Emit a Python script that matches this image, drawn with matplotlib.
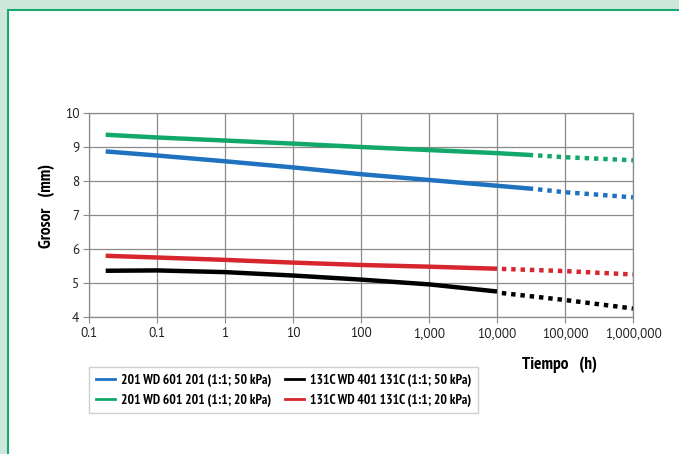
import matplotlib.pyplot as plt
from matplotlib.patches import Rectangle
from matplotlib.lines import Line2D

narrow = ['PT Sans Narrow', 'DejaVu Sans']
regular = ['PT Sans', 'DejaVu Sans']

# x positions in hours (log axis)
t_solid_long = [0.0176, 0.1, 1, 10, 100, 1000, 10000, 34000]
t_dot_long = [34000, 100000, 1000000]
t_solid_short = [0.0176, 0.1, 1, 10, 100, 1000, 10000]
t_dot_short = [10000, 100000, 1000000]

green_solid = [9.36, 9.28, 9.19, 9.10, 9.00, 8.91, 8.82, 8.76]
green_dot = [8.76, 8.70, 8.61]
blue_solid = [8.87, 8.75, 8.58, 8.40, 8.20, 8.03, 7.86, 7.77]
blue_dot = [7.77, 7.67, 7.52]
red_solid = [5.80, 5.75, 5.68, 5.60, 5.53, 5.48, 5.42]
red_dot = [5.42, 5.35, 5.25]
black_solid = [5.36, 5.37, 5.32, 5.22, 5.10, 4.96, 4.75]
black_dot = [4.72, 4.50, 4.25]

xticks = [0.01, 0.1, 1, 10, 100, 1000, 10000, 100000, 1000000]
xlabels = ['0.1', '0.1', '1', '10', '100', '1,000', '10,000', '100,000', '1,000,000']
yticks = [4, 5, 6, 7, 8, 9, 10]

legend_labels = ['201 WD 601 201 (1:1; 50 kPa)', '201 WD 601 201 (1:1; 20 kPa)',
                 '131C WD 401 131C (1:1; 50 kPa)', '131C WD 401 131C (1:1; 20 kPa)']

c_blue = '#1f72c0'
c_green = '#12a86a'
c_red = '#d8262e'
c_black = '#000000'

fig = plt.figure(figsize=(6.79, 4.54), dpi=100)
fig.patch.set_facecolor('#cde8da')
W, H = 679.0, 454.0

# white panel with green border, in a background axes
bg = fig.add_axes([0, 0, 1, 1], zorder=-5)
bg.set_axis_off()
bg.set_xlim(0, W)
bg.set_ylim(H, 0)
bg.add_patch(Rectangle((8, 10), W, H, facecolor='white', edgecolor='#19a874', linewidth=1.5))

ax = fig.add_axes([89 / W, 1 - 317 / H, 544 / W, 204 / H])
ax.set_facecolor('white')
ax.set_xscale('log')
ax.set_xlim(0.01, 1000000)
ax.set_ylim(4, 10)
ax.set_xticks(xticks)
ax.set_xticklabels(xlabels)
ax.minorticks_off()
ax.set_yticks(yticks)
ax.grid(True, color='#8a8a8a', linewidth=0.9)
for s in ax.spines.values():
    s.set_color('#8a8a8a')
    s.set_linewidth(0.9)
ax.tick_params(axis='both', length=4, color='#8a8a8a', pad=3)
for lab in ax.get_xticklabels() + ax.get_yticklabels():
    lab.set_family(regular)
    lab.set_fontsize(9.5)
    lab.set_color('#222222')

lw = 3.2
dots = (1, (1, 1.1))
ax.plot(t_solid_long, green_solid, color=c_green, lw=lw, solid_capstyle='butt')
ax.plot(t_dot_long, green_dot, color=c_green, lw=lw, linestyle=dots)
ax.plot(t_solid_long, blue_solid, color=c_blue, lw=lw, solid_capstyle='butt')
ax.plot(t_dot_long, blue_dot, color=c_blue, lw=lw, linestyle=dots)
ax.plot(t_solid_short, red_solid, color=c_red, lw=lw, solid_capstyle='butt')
ax.plot(t_dot_short, red_dot, color=c_red, lw=lw, linestyle=dots)
ax.plot(t_solid_short, black_solid, color=c_black, lw=lw, solid_capstyle='butt')
ax.plot(t_dot_short, black_dot, color=c_black, lw=lw, linestyle=dots)

ax.set_ylabel('Grosor   (mm)', fontsize=12.5, fontweight='bold', family=narrow)
ax.yaxis.set_label_coords(-0.063, 0.545)
fig.text(560 / W, 1 - 365 / H, 'Tiempo   (h)', fontsize=12.5, fontweight='bold',
         ha='center', va='center', family=narrow)

handles = [Line2D([], [], color=c, lw=2) for c in (c_blue, c_green, c_black, c_red)]
leg = fig.legend(handles, legend_labels, ncol=2, loc='upper left',
                 bbox_to_anchor=(89 / W, 1 - 367 / H),
                 frameon=True, fancybox=False, handlelength=1.4,
                 columnspacing=1.0, handletextpad=0.45, borderpad=0.5,
                 borderaxespad=0, labelspacing=0.5,
                 prop={'weight': 'bold', 'size': 9.8, 'family': narrow})
leg.get_frame().set_edgecolor('#c4c4c4')
leg.get_frame().set_linewidth(1.0)

fig.savefig('out.png', dpi=100, facecolor=fig.get_facecolor())
